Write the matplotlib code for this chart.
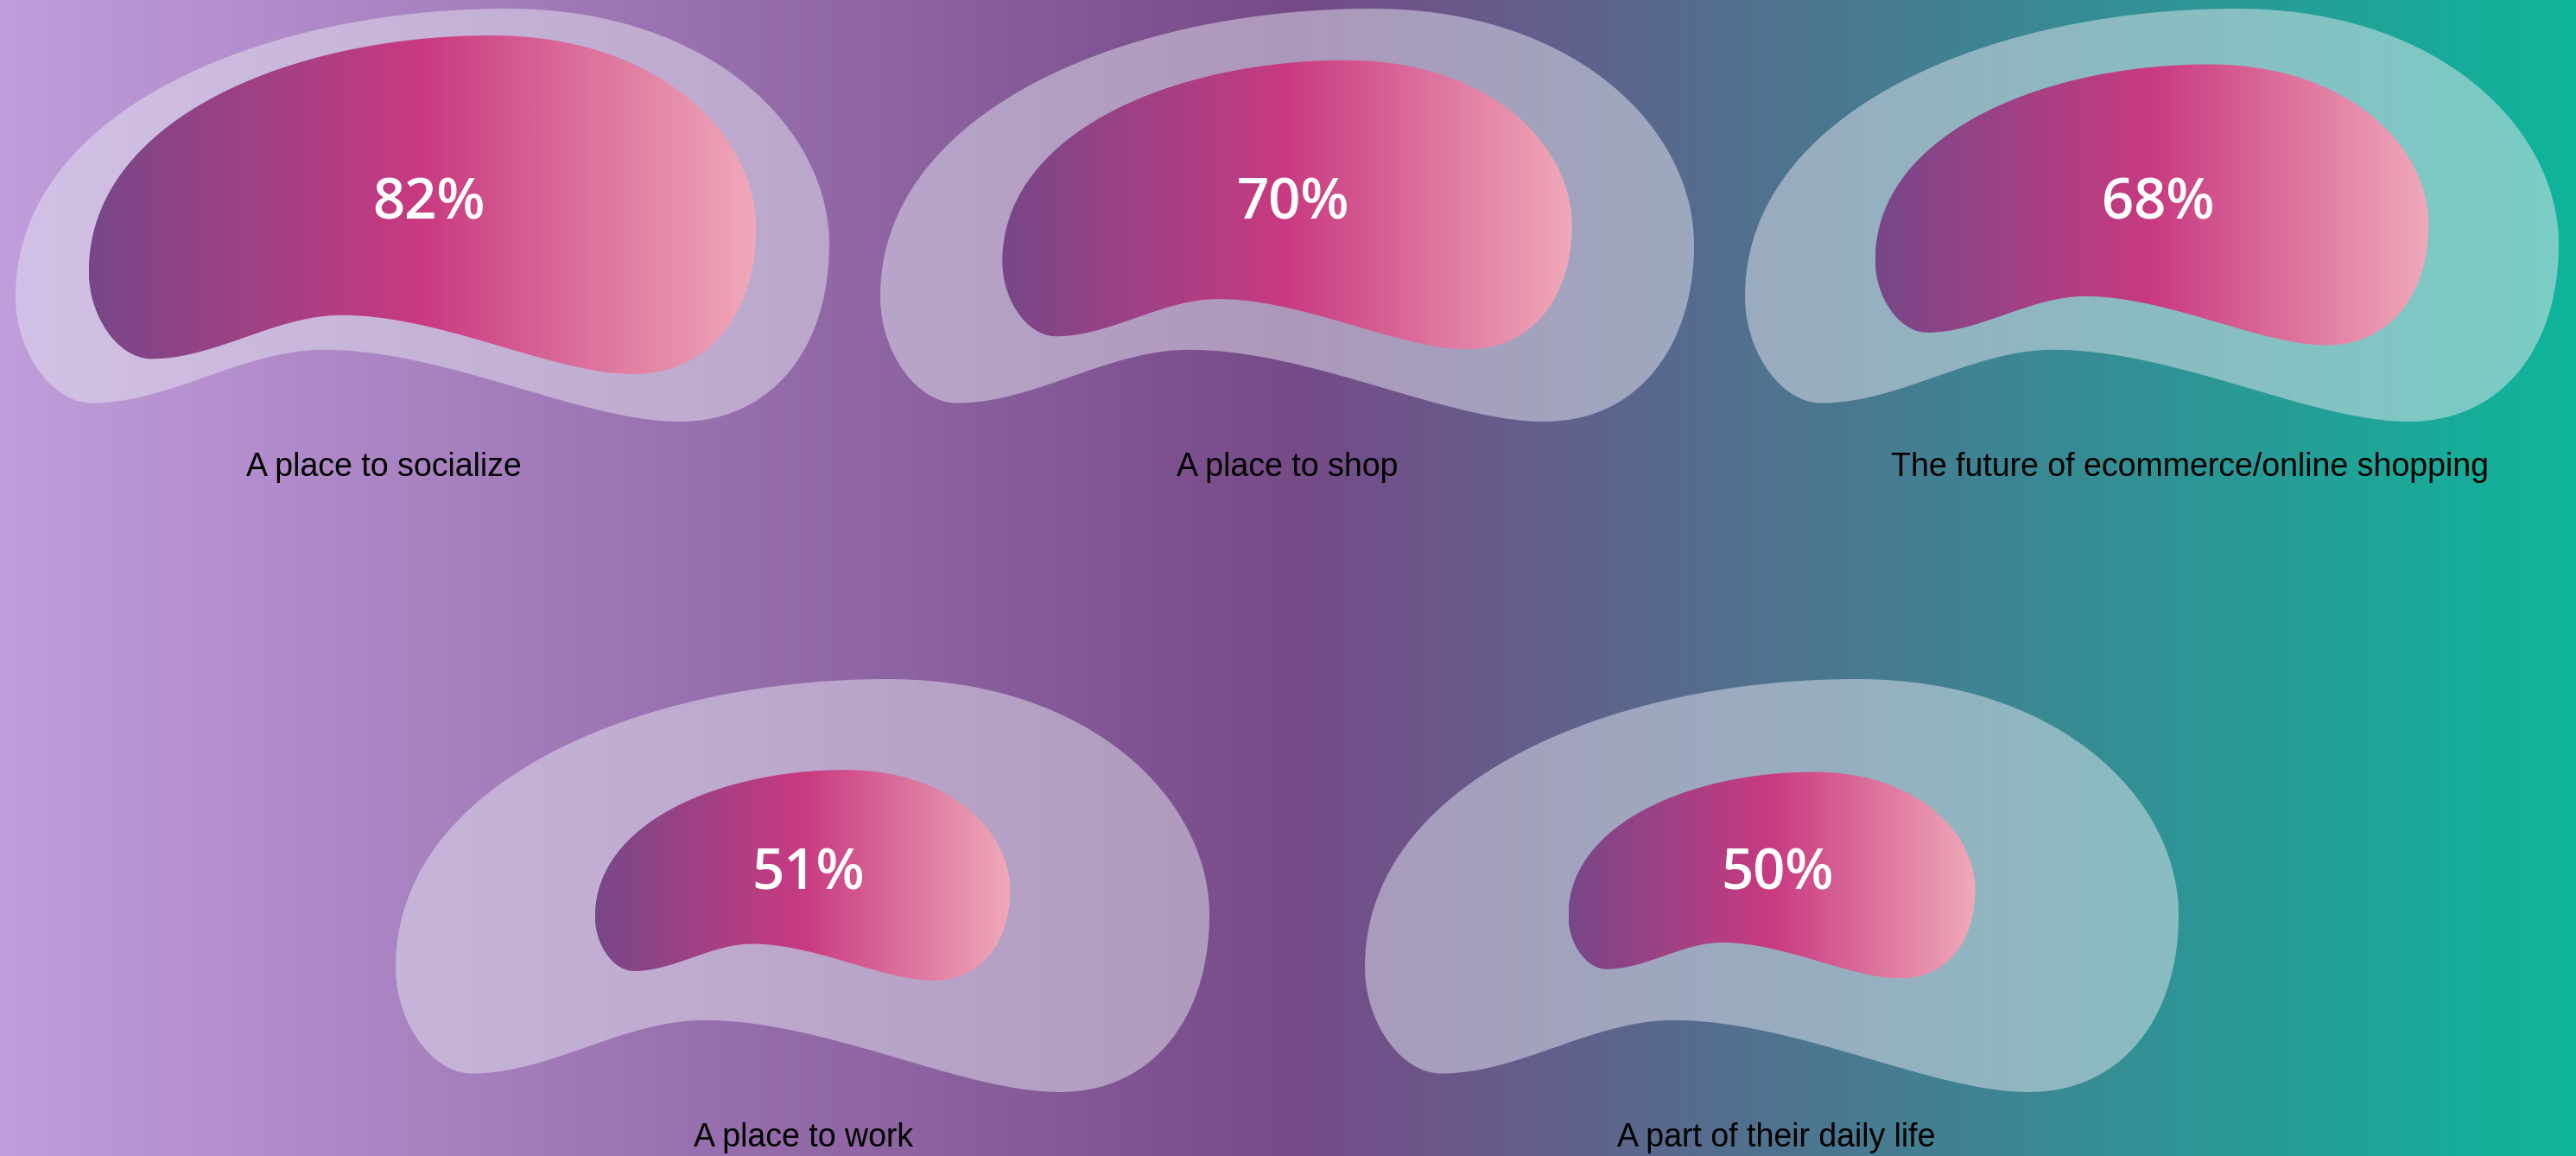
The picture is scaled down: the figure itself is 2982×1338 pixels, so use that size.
import numpy as np
import matplotlib
matplotlib.use("Agg")
import matplotlib.pyplot as plt
from matplotlib.colors import LinearSegmentedColormap
from matplotlib.patches import Polygon

# survey answers
labels = ["A place to socialize", "A place to shop",
          "The future of ecommerce/online shopping",
          "A place to work", "A part of their daily life"]
values = [82, 70, 68, 51, 50]

W, H = 2982, 1338

# blob boxes (left, top) in pixels, all blobs share one size
blob_left = [18, 1019, 2020, 458, 1580]
blob_top = [10, 10, 10, 786, 786]
blob_w, blob_h = 942, 478
label_x = [444, 1490, 2535, 930, 2056]
label_y = [551, 551, 551, 1327, 1327]

# bean outline as cubic bezier segments in a unit box (y pointing down):
# anchor, handle out, handle in, next anchor ...
bean_segments = [
    [(0.000, 0.697), (0.000, 0.247), (0.304, 0.000), (0.604, 0.000)],
    [(0.604, 0.000), (0.854, 0.000), (1.000, 0.291), (1.000, 0.571)],
    [(1.000, 0.571), (1.000, 0.820), (0.930, 1.000), (0.816, 1.000)],
    [(0.816, 1.000), (0.696, 1.000), (0.529, 0.826), (0.379, 0.826)],
    [(0.379, 0.826), (0.280, 0.826), (0.190, 0.955), (0.094, 0.955)],
    [(0.094, 0.955), (0.044, 0.955), (0.000, 0.830), (0.000, 0.697)],
]


def bezier_outline(segments, n=60):
    t = np.linspace(0, 1, n, endpoint=False)[:, None]
    out = []
    for p0, p1, p2, p3 in segments:
        p0, p1, p2, p3 = map(np.array, (p0, p1, p2, p3))
        out.append((1 - t) ** 3 * p0 + 3 * (1 - t) ** 2 * t * p1
                   + 3 * (1 - t) * t ** 2 * p2 + t ** 3 * p3)
    c = np.vstack(out)
    return (c - c.min(0)) / (c.max(0) - c.min(0))


bean = bezier_outline(bean_segments)

bg_cmap = LinearSegmentedColormap.from_list("bg", ["#c19ddc", "#774a88", "#0fb59b"])
blob_cmap = LinearSegmentedColormap.from_list("blob", ["#784788", "#c93a81", "#f0a9b9"])

fig = plt.figure(figsize=(W / 100, H / 100), dpi=100)
ax = fig.add_axes([0, 0, 1, 1])
ax.axis("off")

ax.imshow(np.linspace(0, 1, 1024)[None, :], cmap=bg_cmap, aspect="auto",
          extent=[0, W, H, 0], zorder=0)

for i in range(len(values)):
    x0, y0 = blob_left[i], blob_top[i]
    cx, cy = x0 + blob_w / 2, y0 + blob_h / 2

    outer = np.column_stack([x0 + bean[:, 0] * blob_w, y0 + bean[:, 1] * blob_h])
    ax.add_patch(Polygon(outer, closed=True, facecolor=(228 / 255, 230 / 255, 240 / 255, 0.5),
                         edgecolor="none", zorder=1))

    # inner bean scaled by the share
    s = values[i] / 100
    iw, ih = blob_w * s, blob_h * s
    ix0, iy0 = cx - iw / 2, cy - 12 - ih / 2
    inner = np.column_stack([ix0 + bean[:, 0] * iw, iy0 + bean[:, 1] * ih])
    clip = Polygon(inner, closed=True, facecolor="none", edgecolor="none",
                   transform=ax.transData)
    ax.add_patch(clip)
    im = ax.imshow(np.linspace(0, 1, 512)[None, :], cmap=blob_cmap, aspect="auto",
                   extent=[ix0, ix0 + iw, iy0 + ih, iy0], zorder=2)
    im.set_clip_path(clip)

    ax.text(cx + 7, y0 + 243, f"{values[i]}%", ha="center", va="baseline",
            color="white", fontsize=47, fontweight="semibold",
            family=["Open Sans", "DejaVu Sans"], zorder=3)
    ax.text(label_x[i], label_y[i], labels[i], ha="center", va="baseline",
            color="black", fontsize=27, family=["Liberation Sans", "DejaVu Sans"],
            zorder=3)

ax.set_xlim(0, W)
ax.set_ylim(H, 0)

fig.savefig("out.png", dpi=100)
